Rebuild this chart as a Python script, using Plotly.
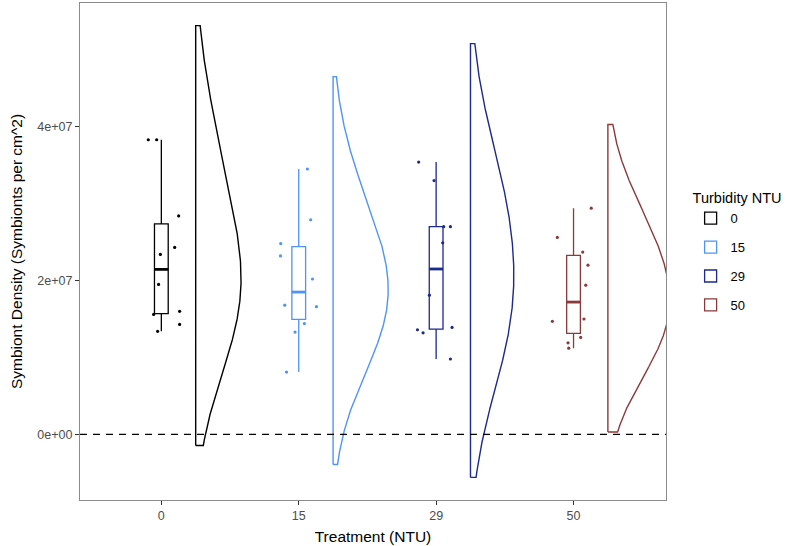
import numpy as np
import plotly.graph_objects as go

# ---------------- data ----------------
groups = ["0", "15", "29", "50"]
colors = ["#000000", "#4F94F5", "#1C2A8C", "#8B3A3A"]

density_0 = [3.83e7, 3.83e7, 2.84e7, 2.43e7, 2.34e7, 1.95e7, 1.56e7, 1.60e7, 1.43e7, 1.34e7]
density_15 = [3.45e7, 2.79e7, 2.48e7, 2.32e7, 2.02e7, 1.68e7, 1.66e7, 1.44e7, 1.33e7, 0.81e7]
density_29 = [3.54e7, 3.30e7, 2.70e7, 2.70e7, 2.49e7, 1.81e7, 1.36e7, 1.32e7, 1.39e7, 0.98e7]
density_50 = [2.94e7, 2.56e7, 2.37e7, 2.20e7, 1.94e7, 1.47e7, 1.50e7, 1.26e7, 1.19e7, 1.12e7]

# horizontal jitter of the points (category units)
jitter_0 = [-0.095, -0.034, 0.126, 0.097, -0.007, -0.020, -0.056, 0.133, 0.133, -0.027]
jitter_15 = [0.063, 0.087, -0.131, -0.133, 0.100, -0.102, 0.129, 0.041, -0.027, -0.089]
jitter_29 = [-0.127, -0.015, 0.055, 0.104, 0.048, -0.049, -0.136, -0.095, 0.116, 0.104]
jitter_50 = [0.129, -0.118, 0.067, 0.105, 0.089, -0.154, 0.076, 0.052, -0.040, -0.035]

y_tick_vals = [0, 2e7, 4e7]
y_tick_text = ["0e+00", "2e+07", "4e+07"]

values = [density_0, density_15, density_29, density_50]
jitters = [jitter_0, jitter_15, jitter_29, jitter_50]

# ---------------- settings ----------------
box_width = 0.1
violin_nudge = 0.25
violin_width = 0.9
bw_adjust = 2.0


def bw_nrd0(v):
    v = np.asarray(v, float)
    sd = v.std(ddof=1)
    iqr = np.percentile(v, 75) - np.percentile(v, 25)
    return 0.9 * min(sd, iqr / 1.34) * len(v) ** -0.2


def kde(v):
    # ggplot2 stat_ydensity: range extended by 3*bw, kernel bandwidth = adjust*bw
    v = np.asarray(v, float)
    bw = bw_nrd0(v)
    grid = np.linspace(v.min() - 3 * bw, v.max() + 3 * bw, 512)
    h = bw * bw_adjust
    z = (grid[:, None] - v[None, :]) / h
    dens = np.exp(-0.5 * z ** 2).sum(axis=1) / (len(v) * h * np.sqrt(2 * np.pi))
    return grid, dens


kdes = [kde(v) for v in values]
global_max = max(d.max() for _, d in kdes)

fig = go.Figure()

# zero reference line
fig.add_hline(y=0, line=dict(color="black", width=1.3, dash="7px,6px"), layer="above")

for i, (g, col, v, jit) in enumerate(zip(groups, colors, values, jitters)):
    pos = i + 1
    v = np.asarray(v, float)
    q1, med, q3 = np.percentile(v, [25, 50, 75])
    iqr = q3 - q1
    lo = v[v >= q1 - 1.5 * iqr].min()
    hi = v[v <= q3 + 1.5 * iqr].max()

    # half violin
    grid, dens = kdes[i]
    base = pos + violin_nudge
    xcurve = base + (violin_width / 2) * dens / global_max
    xs = np.concatenate([[base] * len(grid), xcurve[::-1], [base]])
    ys = np.concatenate([grid, grid[::-1], [grid[0]]])
    fig.add_trace(go.Scatter(x=xs, y=ys, mode="lines", line=dict(color=col, width=1.4),
                             showlegend=False, hoverinfo="skip"))

    # jittered points
    fig.add_trace(go.Scatter(x=pos + np.asarray(jit), y=v, mode="markers",
                             marker=dict(color=col, size=3.2), showlegend=False))

    # box plot
    fig.add_trace(go.Box(x=[pos], q1=[q1], median=[med], q3=[q3], lowerfence=[lo],
                         upperfence=[hi], width=box_width, whiskerwidth=0,
                         fillcolor="rgba(255,255,255,0)", line=dict(color=col, width=1.3),
                         boxpoints=False, name=g, legendgroup=g, showlegend=True))

    # thicker median line (ggplot style)
    fig.add_trace(go.Scatter(x=[pos - box_width / 2, pos + box_width / 2], y=[med, med],
                             mode="lines", line=dict(color=col, width=2.8),
                             showlegend=False, hoverinfo="skip"))

ymin = min(g.min() for g, _ in kdes)
ymax = max(g.max() for g, _ in kdes)
pad = 0.05 * (ymax - ymin)

fig.update_layout(
    width=806, height=546,
    margin=dict(l=80, r=140, t=3, b=46),
    plot_bgcolor="white", paper_bgcolor="white",
    font=dict(family="Liberation Sans, Arial, sans-serif", size=12, color="black"),
    legend=dict(title=dict(text="Turbidity NTU", font=dict(size=14.5, color="black")),
                font=dict(size=13, color="black"),
                x=1.042, xanchor="left", y=0.635, yanchor="top",
                tracegroupgap=9, itemwidth=30, bgcolor="rgba(0,0,0,0)"),
    showlegend=True,
)
fig.update_xaxes(
    range=[0.408, 4.673], tickvals=[1, 2, 3, 4], ticktext=groups,
    showgrid=False, zeroline=False, showline=True, mirror=True,
    linecolor="#8a8a8a", linewidth=1.1,
    ticks="outside", ticklen=4, tickcolor="#333333", tickwidth=1,
    tickfont=dict(size=12.5, color="#4d4d4d"),
    title=dict(text="Treatment (NTU)", font=dict(size=15.5, color="black"), standoff=9),
    automargin=False,
)
fig.update_yaxes(
    range=[ymin - pad, ymax + pad], tickvals=y_tick_vals, ticktext=y_tick_text,
    showgrid=False, zeroline=False, showline=True, mirror=True,
    linecolor="#8a8a8a", linewidth=1.1,
    ticks="outside", ticklen=4, tickcolor="#333333", tickwidth=1,
    tickfont=dict(size=12.5, color="#4d4d4d"),
    title=dict(text="Symbiont Density (Symbionts per cm^2)", font=dict(size=15.5, color="black"),
               standoff=10),
    automargin=False,
)

fig.write_html("out.html")
